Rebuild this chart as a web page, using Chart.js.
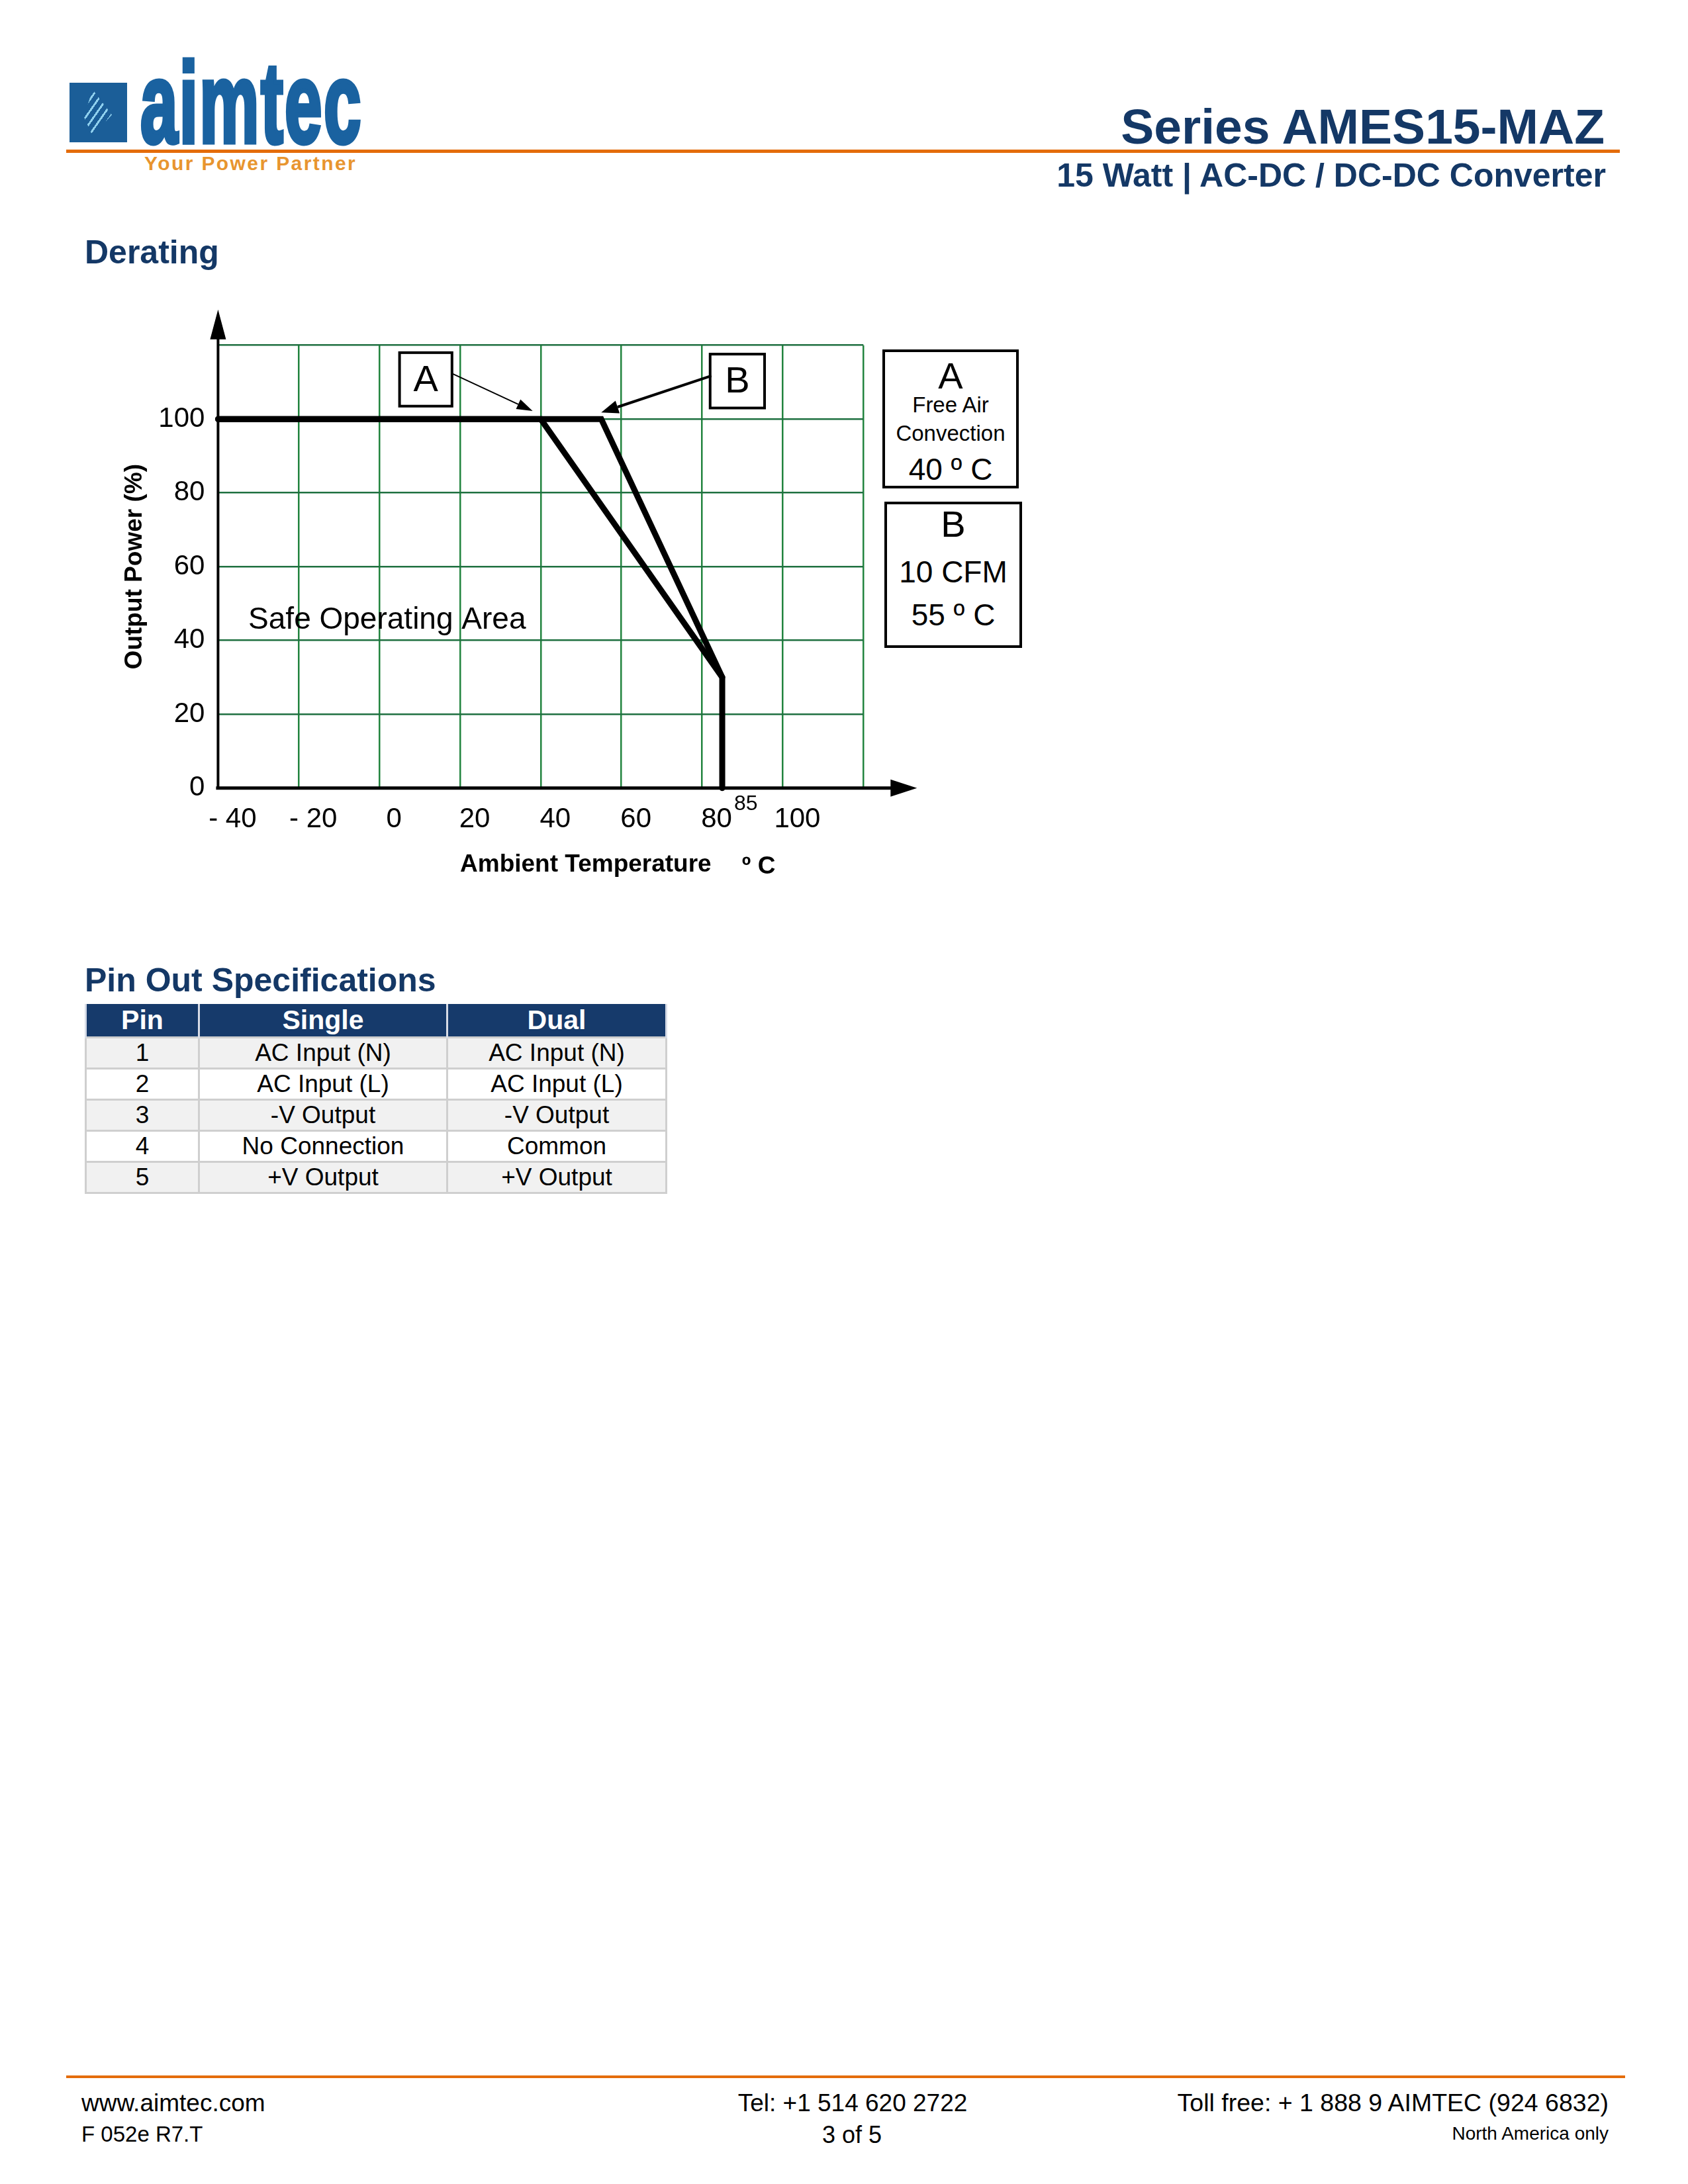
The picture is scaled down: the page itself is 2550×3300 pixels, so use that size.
<!DOCTYPE html>
<html>
<head>
<meta charset="utf-8">
<title>Series AMES15-MAZ - Derating</title>
<script src="https://cdn.jsdelivr.net/npm/chart.js@4.4.0/dist/chart.umd.min.js"></script>
<style>
  body { margin: 0; background: #fff; }
  #page { position: relative; width: 2550px; height: 3300px; overflow: hidden;
          font-family: "Liberation Sans", Arial, sans-serif; color: #000; }
  .abs { position: absolute; white-space: nowrap; line-height: 1; }
  .navy { color: #143866; font-weight: bold; }
  .rule { position: absolute; height: 5px; background: #e46c0a; }
  #chartBox { position: absolute; left: 0; top: 400px; width: 1600px; height: 1000px; }
  .lgd { position: absolute; border: 4px solid #000; box-sizing: border-box; background: #fff; }
  .lgd div { position: absolute; left: 0; width: 100%; text-align: center; line-height: 1; white-space: nowrap; }
  table.pins { position: absolute; left: 128px; top: 1517px; width: 880px; border-collapse: collapse;
               font-size: 37px; }
  table.pins th { background: #163a6b; color: #fff; font-size: 41px; font-weight: bold; height: 49px;
                  border-left: 3px solid #d6dbe6; border-right: 3px solid #d6dbe6; padding: 0; }
  table.pins td { height: 44px; text-align: center; border: 3px solid #cfcfcf; padding: 0; }
  table.pins tr:nth-child(odd) td { background: #f1f1f1; }
  table.pins tr:nth-child(even) td { background: #fff; }
</style>
</head>
<body>
<div id="page">
  <!-- header -->
  <div class="abs" style="left:105px;top:125px;width:87px;height:90px;background:#1b5e98;">
    <div style="position:absolute;left:22px;top:10px;width:42px;height:70px;
         background:repeating-linear-gradient(-55deg, rgba(0,0,0,0) 0 7px, #8fd0ee 7px 10px);
         clip-path:polygon(30% 0,100% 55%,30% 100%,0 60%);"></div>
  </div>
  <div class="abs" style="left:212px;top:91px;line-height:0.75;font-family:'Liberation Sans Narrow','Liberation Sans',sans-serif;
       font-weight:bold;font-size:172px;color:#1a62a0;-webkit-text-stroke:7px #1a62a0;
       transform:scaleX(0.59);transform-origin:left top;letter-spacing:4px;">aimtec</div>
  <div class="rule" style="left:100px;top:226px;width:2347px;"></div>
  <div class="abs" style="left:218px;top:232px;font-size:30px;font-weight:bold;letter-spacing:2.4px;color:#e8952f;">Your Power Partner</div>
  <div class="abs navy" style="right:126px;top:154px;font-size:75px;">Series AMES15-MAZ</div>
  <div class="abs navy" style="right:124px;top:240px;font-size:50px;">15 Watt | AC-DC / DC-DC Converter</div>

  <div class="abs navy" style="left:128px;top:356px;font-size:50px;">Derating</div>

  <div id="chartBox"><canvas id="derating" width="1600" height="1000"></canvas></div>

  <!-- condition boxes -->
  <div class="lgd" style="left:1333px;top:528px;width:206px;height:210px;">
    <div style="top:8px;font-size:56px;">A</div>
    <div style="top:63px;font-size:33px;">Free Air</div>
    <div style="top:106px;font-size:33px;">Convection</div>
    <div style="top:154px;font-size:46px;">40 º C</div>
  </div>
  <div class="lgd" style="left:1336px;top:758px;width:208px;height:221px;">
    <div style="top:2px;font-size:56px;">B</div>
    <div style="top:79px;font-size:46px;">10 CFM</div>
    <div style="top:144px;font-size:46px;">55 º C</div>
  </div>

  <div class="abs navy" style="left:128px;top:1456px;font-size:50px;">Pin Out Specifications</div>
  <table class="pins">
    <thead><tr><th style="width:168px;">Pin</th><th style="width:372px;">Single</th><th>Dual</th></tr></thead>
    <tbody id="pinRows"></tbody>
  </table>

  <!-- footer -->
  <div class="rule" style="left:100px;top:3136px;width:2355px;height:4px;"></div>
  <div class="abs" style="left:123px;top:3159px;font-size:37px;">www.aimtec.com</div>
  <div class="abs" style="left:1288px;top:3159px;font-size:37px;transform:translateX(-50%);">Tel: +1 514 620 2722</div>
  <div class="abs" style="right:120px;top:3159px;font-size:37.5px;">Toll free: + 1 888 9 AIMTEC (924 6832)</div>
  <div class="abs" style="left:123px;top:3208px;font-size:33px;">F 052e R7.T</div>
  <div class="abs" style="left:1287px;top:3208px;font-size:36px;transform:translateX(-50%);">3 of 5</div>
  <div class="abs" style="right:120px;top:3210px;font-size:28px;">North America only</div>
</div>

<script>
// derating curves
const tempA = [-40, 40, 85, 85];      // free air convection
const powerA = [100, 100, 30, 0];
const tempB = [-40, 55, 85];          // 10 CFM
const powerB = [100, 100, 30];

const xTickValues = [-40, -20, 0, 20, 40, 60, 80, 100, 120];
const xTickLabels = ['- 40', '- 20', '0', '20', '40', '60', '80', '100', ''];
const yTickValues = [0, 20, 40, 60, 80, 100, 120];
const yTickLabels = ['0', '20', '40', '60', '80', '100', ''];
const cutoffTemp = 85;

const pinNo = ['1', '2', '3', '4', '5'];
const pinSingle = ['AC Input (N)', 'AC Input (L)', '-V Output', 'No Connection', '+V Output'];
const pinDual = ['AC Input (N)', 'AC Input (L)', '-V Output', 'Common', '+V Output'];

// pin table
var rows = '';
for (var i = 0; i < pinNo.length; i++) {
  rows += '<tr><td>' + pinNo[i] + '</td><td>' + pinSingle[i] + '</td><td>' + pinDual[i] + '</td></tr>';
}
document.getElementById('pinRows').innerHTML = rows;

const FONT = "'Liberation Sans', Arial, sans-serif";
Chart.defaults.font.family = FONT;
Chart.defaults.color = '#000';

function drawArrow(ctx, x1, y1, x2, y2, lw, len, half) {
  const a = Math.atan2(y2 - y1, x2 - x1);
  const bx = x2 - len * Math.cos(a), by = y2 - len * Math.sin(a);
  ctx.lineWidth = lw;
  ctx.beginPath(); ctx.moveTo(x1, y1); ctx.lineTo(bx, by); ctx.stroke();
  ctx.beginPath();
  ctx.moveTo(x2, y2);
  ctx.lineTo(bx + half * Math.sin(a), by - half * Math.cos(a));
  ctx.lineTo(bx - half * Math.sin(a), by + half * Math.cos(a));
  ctx.closePath(); ctx.fill();
}

// axes with arrow heads, markers and texts
const deratingDecor = {
  id: 'deratingDecor',
  beforeDatasetsDraw(chart) {
    const ctx = chart.ctx, x = chart.scales.x, y = chart.scales.y;
    const x0 = x.getPixelForValue(-40), y0 = y.getPixelForValue(0);
    ctx.save();
    ctx.strokeStyle = '#000'; ctx.fillStyle = '#000';
    ctx.lineWidth = 4;
    ctx.beginPath(); ctx.moveTo(x0, y0 + 2); ctx.lineTo(x0, y.top - 20); ctx.stroke();
    ctx.beginPath(); ctx.moveTo(x0, y.top - 54); ctx.lineTo(x0 - 12, y.top - 9); ctx.lineTo(x0 + 12, y.top - 9);
    ctx.closePath(); ctx.fill();
    ctx.lineWidth = 5;
    ctx.beginPath(); ctx.moveTo(x0 - 3, y0); ctx.lineTo(x.right + 50, y0); ctx.stroke();
    ctx.beginPath(); ctx.moveTo(x.right + 81, y0); ctx.lineTo(x.right + 41, y0 - 13); ctx.lineTo(x.right + 41, y0 + 13);
    ctx.closePath(); ctx.fill();
    ctx.restore();
  },
  afterDatasetsDraw(chart) {
    const ctx = chart.ctx, x = chart.scales.x, y = chart.scales.y;
    const px = v => x.getPixelForValue(v), py = v => y.getPixelForValue(v);
    ctx.save();
    ctx.strokeStyle = '#000'; ctx.fillStyle = '#000';

    // A / B tags with pointers to the knee points
    const tags = [['A', 5, 18, 118, 103.5], ['B', 82, 95.5, 117.6, 103]];
    ctx.font = '56px ' + FONT; ctx.textAlign = 'center'; ctx.textBaseline = 'middle';
    tags.forEach(t => {
      const l = px(t[1]), r = px(t[2]), tp = py(t[3]), bt = py(t[4]);
      ctx.fillStyle = '#fff'; ctx.fillRect(l, tp, r - l, bt - tp);
      ctx.fillStyle = '#000';
      ctx.lineWidth = 4; ctx.strokeRect(l, tp, r - l, bt - tp);
      ctx.fillText(t[0], (l + r) / 2, (tp + bt) / 2 + 2);
    });
    drawArrow(ctx, px(18.1), py(112.3), px(38), py(102.2), 2, 24, 8);
    drawArrow(ctx, px(82.3), py(111.7), px(55), py(101.8), 4, 26, 10);

    ctx.font = '46px ' + FONT; ctx.textAlign = 'left'; ctx.textBaseline = 'middle';
    ctx.fillText('Safe Operating Area', px(-32.5), py(45.5));

    ctx.font = '32px ' + FONT;
    ctx.fillText(String(cutoffTemp), px(cutoffTemp) + 18, py(0) + 24);

    const cx = (x.left + x.right) / 2 + 68, ty = py(0) + 116;
    ctx.font = 'bold 37px ' + FONT; ctx.textAlign = 'center';
    ctx.fillText('Ambient Temperature', cx, ty);
    ctx.textAlign = 'left';
    ctx.fillText('º C', cx + 236, ty + 3);
    ctx.restore();
  }
};

const gridGreen = '#22843f';

new Chart(document.getElementById('derating'), {
  type: 'line',
  data: {
    datasets: [
      { label: 'A', data: tempA.map((t, i) => ({ x: t, y: powerA[i] })),
        borderColor: '#000', borderWidth: 9, borderCapStyle: 'round', borderJoinStyle: 'miter',
        pointRadius: 0, fill: false, clip: false },
      { label: 'B', data: tempB.map((t, i) => ({ x: t, y: powerB[i] })),
        borderColor: '#000', borderWidth: 9, borderCapStyle: 'round', borderJoinStyle: 'miter',
        pointRadius: 0, fill: false, clip: false }
    ]
  },
  options: {
    responsive: false,
    animation: false,
    devicePixelRatio: 1,
    layout: { padding: { left: 0, top: 121.7, right: 295.7, bottom: 0 } },
    plugins: { legend: { display: false }, tooltip: { enabled: false } },
    elements: { line: { tension: 0 } },
    scales: {
      x: {
        type: 'linear', min: -40, max: 120,
        afterBuildTicks: s => { s.ticks = xTickValues.map(v => ({ value: v })); },
        afterFit: s => { s.height = 209.3; },
        grid: { color: gridGreen, lineWidth: 2.5, drawTicks: false },
        border: { display: false },
        ticks: { autoSkip: false, maxRotation: 0, padding: 23, labelOffset: 22,
                 font: { size: 42 }, color: '#000',
                 callback: (v, i) => xTickLabels[i] }
      },
      y: {
        type: 'linear', min: 0, max: 120,
        afterBuildTicks: s => { s.ticks = yTickValues.map(v => ({ value: v })); },
        afterFit: s => { s.width = 329.4; },
        grid: { color: '#1f7040', lineWidth: 2.5, drawTicks: false },
        border: { display: false },
        ticks: { padding: 20, font: { size: 42 }, color: '#000',
                 callback: (v, i) => yTickLabels[i] },
        title: { display: true, text: 'Output Power (%)', color: '#000',
                 font: { size: 37, weight: 'bold' }, padding: { top: 182, bottom: 0 } }
      }
    }
  },
  plugins: [deratingDecor]
});
</script>
</body>
</html>
